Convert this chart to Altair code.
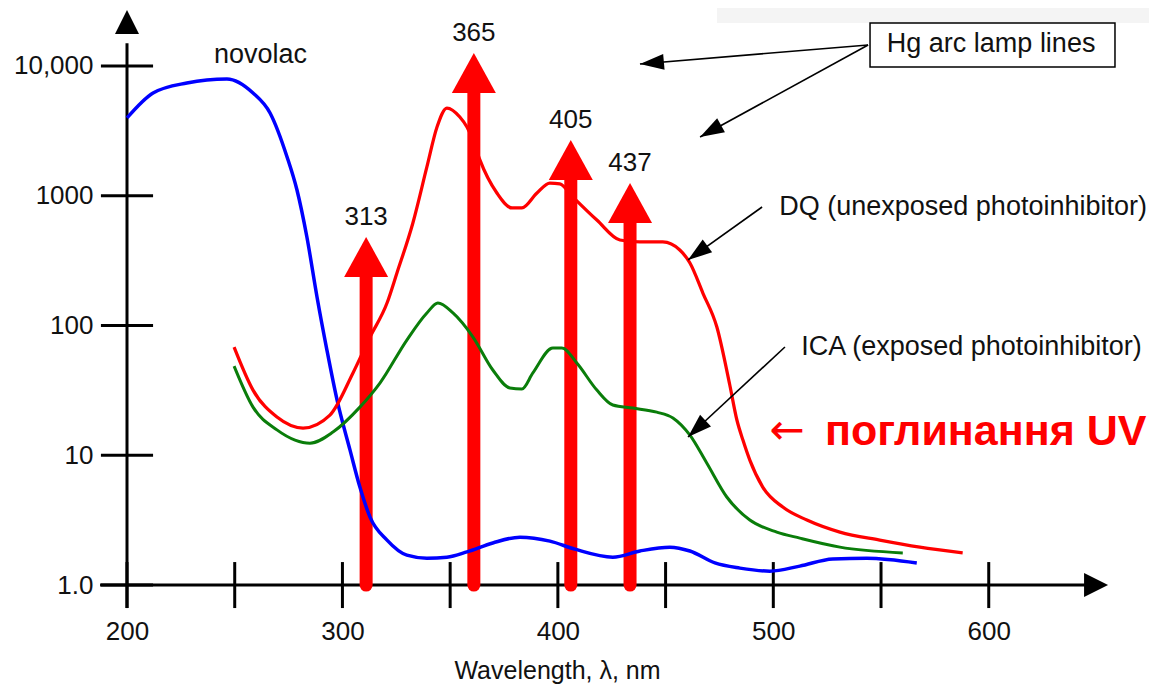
import altair as alt
import pandas as pd

FONT = "Liberation Sans"

# ---------------- data ----------------
novolac_nm = [200.0, 212.1, 227.8, 246.4, 258.5, 266.4, 274.3, 278.9, 283.5, 288.2,
              292.8, 297.5, 303.5, 308.1, 312.8, 320.7, 329.9, 339.2, 348.5, 357.8,
              369.8, 382.4, 396.3, 407.9, 425.5, 438.1, 452.0, 461.3, 472.9, 484.5,
              498.4, 512.3, 527.6, 543.4, 566.6]
novolac_abs = [3975, 6194, 7396, 7943, 6194, 4345, 1990, 1107, 481, 166,
               64.7, 26.7, 11.0, 5.69, 3.34, 2.22, 1.70, 1.61, 1.64, 1.80,
               2.11, 2.34, 2.18, 1.89, 1.64, 1.83, 1.96, 1.83, 1.48, 1.35,
               1.28, 1.40, 1.59, 1.61, 1.48]

dq_nm = [249.7, 258.5, 269.6, 281.7, 294.2, 304.9, 312.8, 320.7, 325.3, 332.7,
         339.2, 343.9, 348.5, 354.5, 357.8, 360.6, 363.8, 371.7, 378.7, 383.3,
         390.3, 396.3, 400.9, 407.0, 418.1, 428.8, 438.1, 448.7, 456.6, 461.3,
         467.3, 473.8, 479.8, 483.1, 485.9, 489.1, 495.1, 504.4, 515.6, 530.9,
         549.4, 568.0, 587.9]
dq_abs = [68.2, 31.8, 19.7, 16.2, 20.4, 43.1, 81.5, 149, 254, 617,
          1667, 3388, 4742, 4046, 3388, 2692, 1888, 1050, 805, 805,
          1050, 1253, 1233, 977, 650, 456, 441, 441, 382, 303,
          178, 97.3, 34.8, 18.7, 13.1, 9.18, 5.69, 3.99, 3.17, 2.56,
          2.22, 1.96, 1.77]

ica_nm = [249.7, 258.5, 269.6, 278.0, 284.9, 295.6, 308.1, 317.4, 329.9, 339.2,
          344.3, 351.3, 360.6, 369.8, 377.7, 383.3, 388.4, 397.7, 401.9, 408.8,
          418.1, 425.5, 434.8, 445.9, 453.4, 461.3, 469.1, 478.4, 489.1, 501.6,
          512.3, 530.9, 560.1]
ica_abs = [48.7, 23.5, 15.7, 13.1, 12.4, 15.1, 23.5, 36.0, 77.3, 125,
           149, 125, 81.5, 45.4, 33.0, 32.4, 43.1, 67.1, 67.1, 51.4,
           31.8, 24.4, 23.1, 21.5, 19.4, 14.3, 8.72, 4.77, 3.17, 2.56,
           2.30, 1.96, 1.77]

series_names = ["novolac", "DQ", "ICA"]
series_colors = ["#0000ff", "#ff0000", "#0a7d0a"]

lamp_labels = ["313", "365", "405", "437"]
lamp_nm = [311, 361, 406, 433.5]
lamp_tip = [481, 12590, 2690, 1254]

x_label_values = [200, 300, 400, 500, 600]
x_tick_values = [200, 250, 300, 350, 400, 450, 500, 550, 600]
y_tick_values = [1, 10, 100, 1000, 10000]
y_tick_labels = ["1.0", "10", "100", "1000", "10,000"]

# annotation texts (label, wavelength, value)
note_texts = ["novolac", "Hg arc lamp lines", "DQ (unexposed photoinhibitor)", "ICA (exposed photoinhibitor)"]
note_nm = [262.0, 601.1, 588.1, 592.0]
note_val = [12160, 14790, 819, 68.7]

# pointer arrows: start -> tip
ptr_x0 = [544.0, 544.0, 494.8, 505.4]
ptr_y0 = [14520, 14520, 819, 68.3]
ptr_x1 = [438.1, 466.0, 460.4, 460.4]
ptr_y1 = [10360, 2837, 320, 13.83]
ptr_angle = [265, 241, 234, 227]

# ---------------- scales & axes ----------------
xs = alt.Scale(domain=[200, 660], nice=False, zero=False)
ys = alt.Scale(type="log", domain=[0.62, 27000], nice=False)

y_expr = " : ".join(f"datum.value == {v} ? '{l}'" for v, l in zip(y_tick_values, y_tick_labels)) + " : ''"

x_axis = alt.Axis(values=x_label_values, domain=False, ticks=False, grid=False, labelFlush=False,
                  labelPadding=6, labelFont=FONT, labelFontSize=26, labelColor="#111",
                  title="Wavelength, λ, nm", titleFont=FONT, titleFontSize=25,
                  titleFontWeight="normal", titleColor="#111", titleX=430, titleY=58,
                  titleBaseline="middle", titleAlign="center")
y_axis = alt.Axis(values=y_tick_values, labelExpr=y_expr, domain=False, ticks=False, grid=False,
                  labelFlush=False, labelPadding=34, labelFont=FONT, labelFontSize=26,
                  labelColor="#111", title="")


def X(f):
    return alt.X(f, type="quantitative", scale=xs, axis=x_axis)


def Y(f):
    return alt.Y(f, type="quantitative", scale=ys, axis=y_axis)


# ---------------- tables ----------------
curves = pd.concat([
    pd.DataFrame({"nm": novolac_nm, "a": novolac_abs, "series": "novolac", "o": range(len(novolac_nm))}),
    pd.DataFrame({"nm": dq_nm, "a": dq_abs, "series": "DQ", "o": range(len(dq_nm))}),
    pd.DataFrame({"nm": ica_nm, "a": ica_abs, "series": "ICA", "o": range(len(ica_nm))}),
])

lamps = pd.DataFrame({"nm": lamp_nm, "tip": lamp_tip, "label": lamp_labels})
lamps["base"] = 1.0
lamps["shaft_top"] = lamps["tip"] / 1.6

axis_lines = pd.DataFrame({"x0": [200, 187.5], "x1": [200, 645], "y0": [0.665, 1], "y1": [15000, 1]})
y_ticks = pd.DataFrame({"x0": [187.9] * len(y_tick_values), "x1": [212.1] * len(y_tick_values), "y": y_tick_values})
x_ticks = pd.DataFrame({"x": x_tick_values, "y0": [0.665] * len(x_tick_values), "y1": [1.504] * len(x_tick_values)})
axis_heads = pd.DataFrame({"x": [200, 655.4], "y": [27000, 1], "angle": [0, 90]})

notes = pd.DataFrame({"text": note_texts, "nm": note_nm, "val": note_val})
pointers = pd.DataFrame({"x0": ptr_x0, "y0": ptr_y0, "x1": ptr_x1, "y1": ptr_y1, "angle": ptr_angle})

box = pd.DataFrame({"x0": [544.9], "x1": [658.6], "y0": [9820], "y1": [21440]})
strip = pd.DataFrame({"x0": [473.9], "x1": [680], "y0": [21440], "y1": [28000]})
uv = pd.DataFrame({"nm": [524.0], "val": [15.1], "text": ["поглинання UV"]})
uv_arrow = pd.DataFrame({"nm": [506.4], "val": [15.4], "text": ["←"]})

# ---------------- layers ----------------
strip_l = alt.Chart(strip).mark_rect(color="#f4f4f4").encode(
    x=X("x0"), x2=alt.X2("x1"), y=Y("y0"), y2=alt.Y2("y1"))

axis_l = alt.Chart(axis_lines).mark_rule(color="#000", strokeWidth=3).encode(
    x=X("x0"), x2=alt.X2("x1"), y=Y("y0"), y2=alt.Y2("y1"))
yt_l = alt.Chart(y_ticks).mark_rule(color="#000", strokeWidth=3).encode(
    x=X("x0"), x2=alt.X2("x1"), y=Y("y"))
xt_l = alt.Chart(x_ticks).mark_rule(color="#000", strokeWidth=3).encode(
    x=X("x"), y=Y("y0"), y2=alt.Y2("y1"))
ah_l = alt.Chart(axis_heads).mark_point(shape="M0,0L-1,2L1,2Z", size=576, filled=True,
                                        color="#000", opacity=1, strokeWidth=0).encode(
    x=X("x"), y=Y("y"), angle=alt.Angle("angle:Q", scale=None))

shaft_l = alt.Chart(lamps).mark_rule(color="#ff0000", strokeWidth=13, strokeCap="round").encode(
    x=X("nm"), y=Y("base"), y2=alt.Y2("shaft_top"))
head_l = alt.Chart(lamps).mark_point(shape="M0,0L-1,1.82L1,1.82Z", size=1936, filled=True,
                                     color="#ff0000", opacity=1, strokeWidth=0).encode(
    x=X("nm"), y=Y("tip"))
lamp_txt = alt.Chart(lamps).mark_text(font=FONT, fontSize=26, color="#111", dy=-20,
                                      baseline="middle", align="center").encode(
    x=X("nm"), y=Y("tip"), text="label:N")

lines_l = alt.Chart(curves).mark_line(interpolate="monotone").encode(
    x=X("nm"), y=Y("a"),
    color=alt.Color("series:N", scale=alt.Scale(domain=series_names, range=series_colors), legend=None),
    strokeWidth=alt.StrokeWidth("series:N", scale=alt.Scale(domain=series_names, range=[3.5, 3, 3.5]), legend=None),
    order="o:Q")

box_l = alt.Chart(box).mark_rect(fill="#ffffff", stroke="#000", strokeWidth=1.5).encode(
    x=X("x0"), x2=alt.X2("x1"), y=Y("y0"), y2=alt.Y2("y1"))

ptr_l = alt.Chart(pointers).mark_rule(color="#000", strokeWidth=1.6).encode(
    x=X("x0"), x2=alt.X2("x1"), y=Y("y0"), y2=alt.Y2("y1"))
ptr_h = alt.Chart(pointers).mark_point(shape="M0,0L-0.667,2L0.667,2Z", size=576, filled=True,
                                       color="#000", opacity=1, strokeWidth=0).encode(
    x=X("x1"), y=Y("y1"), angle=alt.Angle("angle:Q", scale=None))

notes_l = alt.Chart(notes).mark_text(font=FONT, fontSize=27, color="#111", baseline="middle",
                                     align="center").encode(x=X("nm"), y=Y("val"), text="text:N")

uv_l = alt.Chart(uv).mark_text(font=FONT, fontSize=43, fontWeight="bold", color="#ff0000",
                               baseline="middle", align="left").encode(x=X("nm"), y=Y("val"), text="text:N")
uva_l = alt.Chart(uv_arrow).mark_text(font="DejaVu Sans", fontSize=42, color="#ff0000",
                                      baseline="middle", align="center").encode(x=X("nm"), y=Y("val"), text="text:N")

chart = alt.layer(
    strip_l, axis_l, yt_l, xt_l, ah_l, shaft_l, head_l, lamp_txt, lines_l,
    box_l, ptr_l, ptr_h, notes_l, uv_l, uva_l
).properties(
    width=991, height=602,
    padding={"left": 119, "top": 2, "right": 31, "bottom": 72},
    autosize="none", background="#ffffff"
).configure_view(stroke=None)

chart.save("out.html", embed_options={"renderer": "svg", "actions": False})
